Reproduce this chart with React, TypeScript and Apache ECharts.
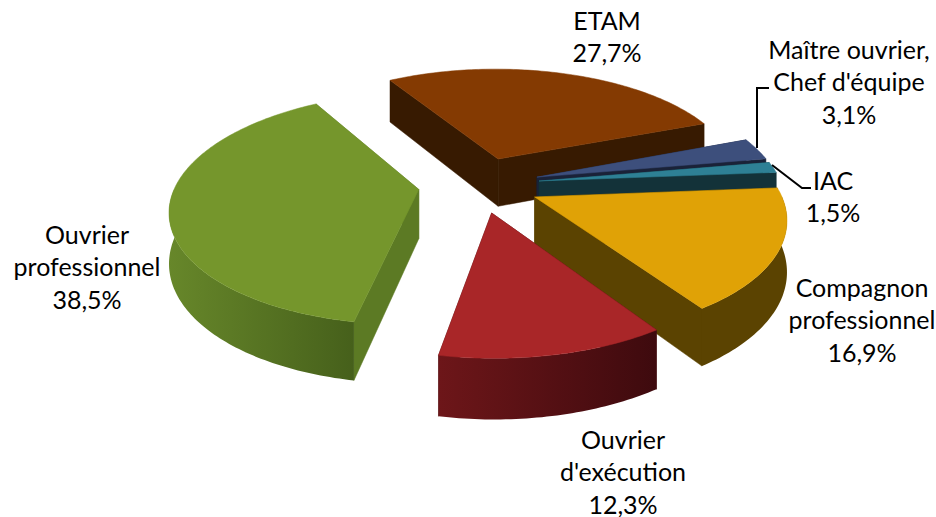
import React, { useEffect, useRef } from "react";
import * as echarts from "echarts";

const categories = ["ETAM", "Maître ouvrier,\nChef d'équipe", "IAC", "Compagnon\nprofessionnel", "Ouvrier\nd'exécution", "Ouvrier\nprofessionnel"];
const shares = [27.7, 3.1, 1.5, 16.9, 12.3, 38.5];
const topColors = ["#843a02", "#3d4f7c", "#2e8095", "#e0a206", "#a92628", "#75962c"];
const cutColors = ["#371a01", "#1a2238", "#133239", "#5b4301", "#4a1013", "#5c7a24"];
const wallLeft = ["#371a01", "#1a2238", "#133239", "#5b4301", "#6d1619", "#67872a"];
const wallRight = ["#371a01", "#1a2238", "#133239", "#5b4301", "#3e0a0e", "#46601b"];

const START = 329.2;
const R = 243, TILT = 0.46, K = 0.16, EXPLODE = 0.25, CX = 479, CY = 184.5, H = 49;
const rad = (d: number) => (d * Math.PI) / 180;

function project(X: number, Z: number, h: number): number[] {
  const s = 1 / (1 - K * Z);
  return [CX + X * R * s, CY + (Z * TILT * R + h * H) * s];
}

function renderSlice(_: any, api: any) {
  const i = api.value(0);
  let a0 = START;
  for (let j = 0; j < i; j++) a0 += (shares[j] / 100) * 360;
  const a1 = a0 + (api.value(1) / 100) * 360;
  const mid = rad((a0 + a1) / 2);
  const ox = EXPLODE * Math.sin(mid), oz = -EXPLODE * Math.cos(mid);
  const P = (deg: number, h: number) => project(ox + Math.sin(rad(deg)), oz - Math.cos(rad(deg)), h);
  const apex = (h: number) => project(ox, oz, h);
  const steps = Math.max(4, Math.ceil(a1 - a0));
  const angles: number[] = [];
  for (let k = 0; k <= steps; k++) angles.push(a0 + ((a1 - a0) * k) / steps);

  const children: any[] = [];
  const face = (points: number[][], fill: any) => ({
    type: "polygon",
    shape: { points },
    style: { fill, stroke: typeof fill === "string" ? fill : "none", lineWidth: 0.5 },
  });
  for (const d of [a0, a1]) {
    children.push(face([apex(0), P(d, 0), P(d, 1), apex(1)], cutColors[i]));
  }
  const front = angles.filter((d) => Math.cos(rad(d)) < 0.02);
  if (front.length > 1) {
    const wall = [...front.map((d) => P(d, 0)), ...front.slice().reverse().map((d) => P(d, 1))];
    children.push(
      face(wall, {
        type: "linear", x: 0, y: 0, x2: 1, y2: 0,
        colorStops: [{ offset: 0, color: wallLeft[i] }, { offset: 1, color: wallRight[i] }],
      })
    );
  }
  children.push(face([apex(0), ...angles.map((d) => P(d, 0))], topColors[i]));
  return { type: "group", children };
}

const pct = (v: number) => v.toFixed(1).replace(".", ",") + "%";
const labelText = (i: number) => categories[i] + "\n" + pct(shares[i]);

export default function App() {
  const ref = useRef<HTMLDivElement>(null);
  useEffect(() => {
    const chart = echarts.init(ref.current!, undefined, { renderer: "svg" });
    const label = (i: number, x: number, y: number) => ({
      type: "text",
      x,
      y,
      z: 10,
      style: {
        text: labelText(i),
        fill: "#000",
        font: "25px Lato",
        lineHeight: 32.5,
        align: "center",
        verticalAlign: "middle",
      },
    });
    const leader = (points: number[][]) => ({
      type: "polyline",
      z: 9,
      shape: { points },
      style: { stroke: "#000", lineWidth: 2, fill: "none" },
    });
    chart.setOption({
      animation: false,
      backgroundColor: "#fff",
      series: [
        {
          type: "custom",
          coordinateSystem: "none",
          renderItem: renderSlice,
          data: shares.map((v, i) => [i, v]),
          silent: true,
        },
      ],
      graphic: [
        label(0, 607, 36),
        label(1, 849, 81),
        label(2, 833, 196),
        label(3, 862, 319),
        label(4, 623, 471),
        label(5, 87, 266),
        leader([[757, 148], [757, 88], [769, 88]]),
        leader([[772, 165], [802, 188], [811, 188]]),
      ],
    });
    return () => chart.dispose();
  }, []);
  return <div ref={ref} style={{ position: "absolute", left: 0, top: 0, width: 936, height: 517 }} />;
}
